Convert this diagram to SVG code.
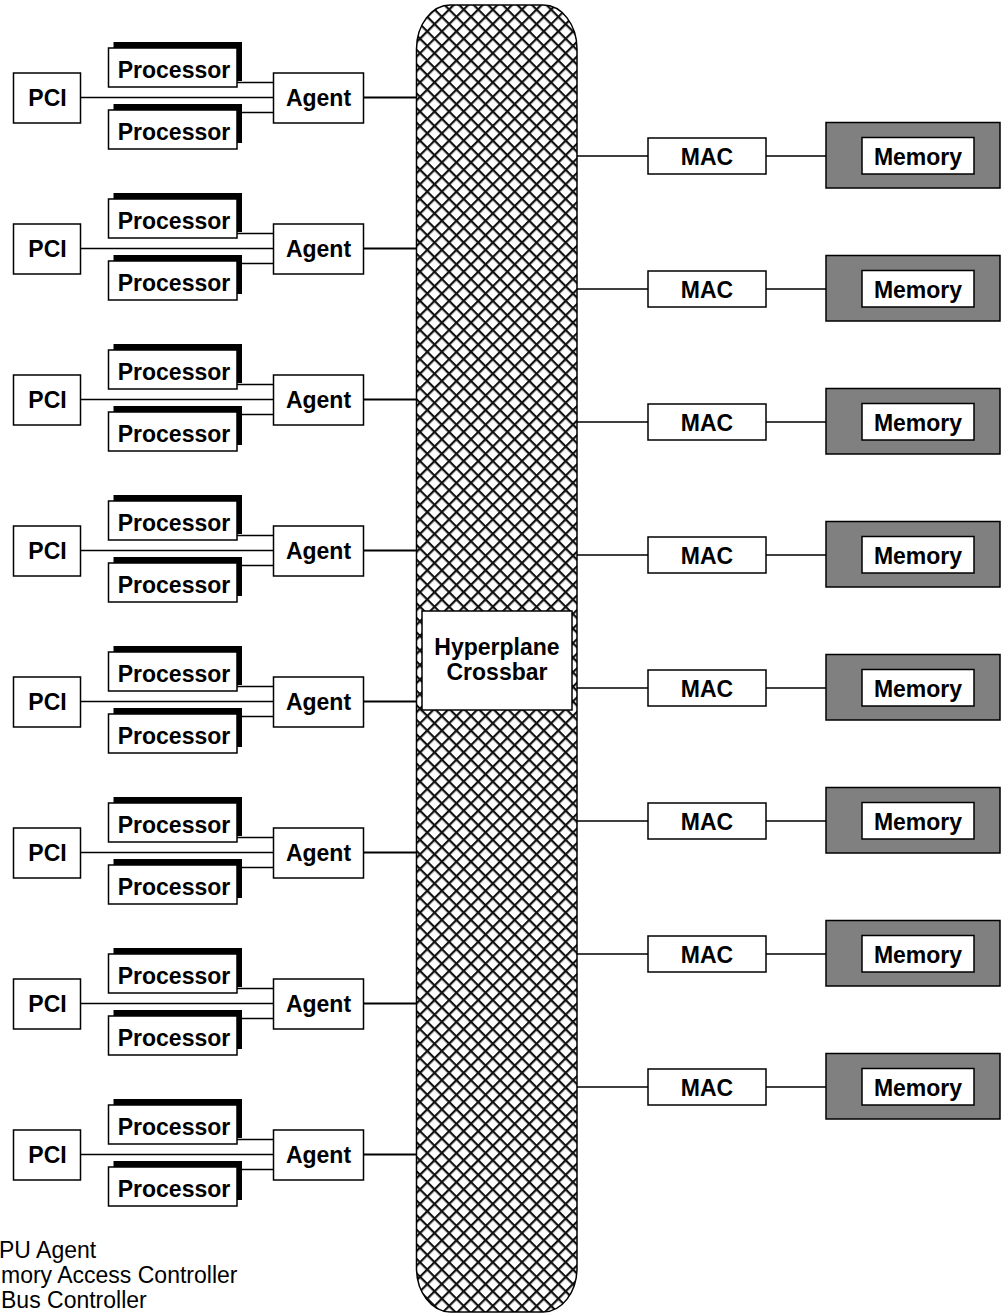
<svg xmlns="http://www.w3.org/2000/svg" width="1002" height="1315" viewBox="0 0 1002 1315">
<style>
.box{fill:#fff;stroke:#000;stroke-width:1.5}
.sh{fill:#000}
.mem{fill:#808080;stroke:#000;stroke-width:1.5}
.t{font-family:"Liberation Sans",Arial,sans-serif;font-weight:bold;font-size:23px;text-anchor:middle;fill:#000}
.lg{font-family:"Liberation Sans",Arial,sans-serif;font-size:23px;fill:#000}
.ln{stroke:#000;stroke-width:1.5;fill:none}
.lt{stroke:#000;stroke-width:2.2;fill:none}
</style>
<defs>
<pattern id="hatch" width="10.3" height="10.3" patternUnits="userSpaceOnUse" patternTransform="translate(420 8) rotate(45)">
<rect width="10.3" height="10.3" fill="#fff"/>
<rect width="10.3" height="2.2" fill="#111"/>
<rect width="2.2" height="10.3" fill="#111"/>
</pattern>
</defs>
<rect width="1002" height="1315" fill="#fff"/>

<g id="crossbar">
<rect x="416.5" y="5" width="160.5" height="1307" rx="34" ry="44" fill="url(#hatch)" stroke="#000" stroke-width="1.5"/>
<rect class="box" x="422" y="611" width="150" height="99"/>
<text class="t" x="497" y="655">Hyperplane</text>
<text class="t" x="497" y="680">Crossbar</text>
</g>

<g id="connectors">
<path class="ln" d="M237 82.5H273.5M80.5 97.5H273.5M242 112.5H273.5"/>
<path class="lt" d="M363.5 97.5H417"/>
<path class="ln" d="M237 233.5H273.5M80.5 248.5H273.5M242 263.5H273.5"/>
<path class="lt" d="M363.5 248.5H417"/>
<path class="ln" d="M237 384.5H273.5M80.5 399.5H273.5M242 414.5H273.5"/>
<path class="lt" d="M363.5 399.5H417"/>
<path class="ln" d="M237 535.5H273.5M80.5 550.5H273.5M242 565.5H273.5"/>
<path class="lt" d="M363.5 550.5H417"/>
<path class="ln" d="M237 686.5H273.5M80.5 701.5H273.5M242 716.5H273.5"/>
<path class="lt" d="M363.5 701.5H417"/>
<path class="ln" d="M237 837.5H273.5M80.5 852.5H273.5M242 867.5H273.5"/>
<path class="lt" d="M363.5 852.5H417"/>
<path class="ln" d="M237 988.5H273.5M80.5 1003.5H273.5M242 1018.5H273.5"/>
<path class="lt" d="M363.5 1003.5H417"/>
<path class="ln" d="M237 1139.5H273.5M80.5 1154.5H273.5M242 1169.5H273.5"/>
<path class="lt" d="M363.5 1154.5H417"/>
<path class="ln" d="M577 156H648M766 156H826"/>
<path class="ln" d="M577 289H648M766 289H826"/>
<path class="ln" d="M577 422H648M766 422H826"/>
<path class="ln" d="M577 555H648M766 555H826"/>
<path class="ln" d="M577 688H648M766 688H826"/>
<path class="ln" d="M577 821H648M766 821H826"/>
<path class="ln" d="M577 954H648M766 954H826"/>
<path class="ln" d="M577 1087H648M766 1087H826"/>
</g>

<g id="pci1"><rect class="box" x="13.5" y="73" width="67" height="50"/><text class="t" x="47.5" y="106">PCI</text></g>
<g id="proc1a"><rect class="sh" x="113.5" y="42" width="128.5" height="39"/><rect class="box" x="108.5" y="48" width="128.5" height="39"/><text class="t" x="174" y="77.5">Processor</text></g>
<g id="proc1b"><rect class="sh" x="113.5" y="104" width="128.5" height="39"/><rect class="box" x="108.5" y="110" width="128.5" height="39"/><text class="t" x="174" y="139.5">Processor</text></g>
<g id="agent1"><rect class="box" x="273.5" y="73" width="90" height="50"/><text class="t" x="318.5" y="106">Agent</text></g>

<g id="pci2"><rect class="box" x="13.5" y="224" width="67" height="50"/><text class="t" x="47.5" y="257">PCI</text></g>
<g id="proc2a"><rect class="sh" x="113.5" y="193" width="128.5" height="39"/><rect class="box" x="108.5" y="199" width="128.5" height="39"/><text class="t" x="174" y="228.5">Processor</text></g>
<g id="proc2b"><rect class="sh" x="113.5" y="255" width="128.5" height="39"/><rect class="box" x="108.5" y="261" width="128.5" height="39"/><text class="t" x="174" y="290.5">Processor</text></g>
<g id="agent2"><rect class="box" x="273.5" y="224" width="90" height="50"/><text class="t" x="318.5" y="257">Agent</text></g>

<g id="pci3"><rect class="box" x="13.5" y="375" width="67" height="50"/><text class="t" x="47.5" y="408">PCI</text></g>
<g id="proc3a"><rect class="sh" x="113.5" y="344" width="128.5" height="39"/><rect class="box" x="108.5" y="350" width="128.5" height="39"/><text class="t" x="174" y="379.5">Processor</text></g>
<g id="proc3b"><rect class="sh" x="113.5" y="406" width="128.5" height="39"/><rect class="box" x="108.5" y="412" width="128.5" height="39"/><text class="t" x="174" y="441.5">Processor</text></g>
<g id="agent3"><rect class="box" x="273.5" y="375" width="90" height="50"/><text class="t" x="318.5" y="408">Agent</text></g>

<g id="pci4"><rect class="box" x="13.5" y="526" width="67" height="50"/><text class="t" x="47.5" y="559">PCI</text></g>
<g id="proc4a"><rect class="sh" x="113.5" y="495" width="128.5" height="39"/><rect class="box" x="108.5" y="501" width="128.5" height="39"/><text class="t" x="174" y="530.5">Processor</text></g>
<g id="proc4b"><rect class="sh" x="113.5" y="557" width="128.5" height="39"/><rect class="box" x="108.5" y="563" width="128.5" height="39"/><text class="t" x="174" y="592.5">Processor</text></g>
<g id="agent4"><rect class="box" x="273.5" y="526" width="90" height="50"/><text class="t" x="318.5" y="559">Agent</text></g>

<g id="pci5"><rect class="box" x="13.5" y="677" width="67" height="50"/><text class="t" x="47.5" y="710">PCI</text></g>
<g id="proc5a"><rect class="sh" x="113.5" y="646" width="128.5" height="39"/><rect class="box" x="108.5" y="652" width="128.5" height="39"/><text class="t" x="174" y="681.5">Processor</text></g>
<g id="proc5b"><rect class="sh" x="113.5" y="708" width="128.5" height="39"/><rect class="box" x="108.5" y="714" width="128.5" height="39"/><text class="t" x="174" y="743.5">Processor</text></g>
<g id="agent5"><rect class="box" x="273.5" y="677" width="90" height="50"/><text class="t" x="318.5" y="710">Agent</text></g>

<g id="pci6"><rect class="box" x="13.5" y="828" width="67" height="50"/><text class="t" x="47.5" y="861">PCI</text></g>
<g id="proc6a"><rect class="sh" x="113.5" y="797" width="128.5" height="39"/><rect class="box" x="108.5" y="803" width="128.5" height="39"/><text class="t" x="174" y="832.5">Processor</text></g>
<g id="proc6b"><rect class="sh" x="113.5" y="859" width="128.5" height="39"/><rect class="box" x="108.5" y="865" width="128.5" height="39"/><text class="t" x="174" y="894.5">Processor</text></g>
<g id="agent6"><rect class="box" x="273.5" y="828" width="90" height="50"/><text class="t" x="318.5" y="861">Agent</text></g>

<g id="pci7"><rect class="box" x="13.5" y="979" width="67" height="50"/><text class="t" x="47.5" y="1012">PCI</text></g>
<g id="proc7a"><rect class="sh" x="113.5" y="948" width="128.5" height="39"/><rect class="box" x="108.5" y="954" width="128.5" height="39"/><text class="t" x="174" y="983.5">Processor</text></g>
<g id="proc7b"><rect class="sh" x="113.5" y="1010" width="128.5" height="39"/><rect class="box" x="108.5" y="1016" width="128.5" height="39"/><text class="t" x="174" y="1045.5">Processor</text></g>
<g id="agent7"><rect class="box" x="273.5" y="979" width="90" height="50"/><text class="t" x="318.5" y="1012">Agent</text></g>

<g id="pci8"><rect class="box" x="13.5" y="1130" width="67" height="50"/><text class="t" x="47.5" y="1163">PCI</text></g>
<g id="proc8a"><rect class="sh" x="113.5" y="1099" width="128.5" height="39"/><rect class="box" x="108.5" y="1105" width="128.5" height="39"/><text class="t" x="174" y="1134.5">Processor</text></g>
<g id="proc8b"><rect class="sh" x="113.5" y="1161" width="128.5" height="39"/><rect class="box" x="108.5" y="1167" width="128.5" height="39"/><text class="t" x="174" y="1196.5">Processor</text></g>
<g id="agent8"><rect class="box" x="273.5" y="1130" width="90" height="50"/><text class="t" x="318.5" y="1163">Agent</text></g>

<g id="mac1"><rect class="box" x="648" y="138" width="118" height="36"/><text class="t" x="707" y="164.5">MAC</text></g>
<g id="mem1"><rect class="mem" x="826" y="122.5" width="174" height="65.5"/><rect class="box" x="862" y="137.5" width="112" height="36.5"/><text class="t" x="918" y="164.5">Memory</text></g>
<g id="mac2"><rect class="box" x="648" y="271" width="118" height="36"/><text class="t" x="707" y="297.5">MAC</text></g>
<g id="mem2"><rect class="mem" x="826" y="255.5" width="174" height="65.5"/><rect class="box" x="862" y="270.5" width="112" height="36.5"/><text class="t" x="918" y="297.5">Memory</text></g>
<g id="mac3"><rect class="box" x="648" y="404" width="118" height="36"/><text class="t" x="707" y="430.5">MAC</text></g>
<g id="mem3"><rect class="mem" x="826" y="388.5" width="174" height="65.5"/><rect class="box" x="862" y="403.5" width="112" height="36.5"/><text class="t" x="918" y="430.5">Memory</text></g>
<g id="mac4"><rect class="box" x="648" y="537" width="118" height="36"/><text class="t" x="707" y="563.5">MAC</text></g>
<g id="mem4"><rect class="mem" x="826" y="521.5" width="174" height="65.5"/><rect class="box" x="862" y="536.5" width="112" height="36.5"/><text class="t" x="918" y="563.5">Memory</text></g>
<g id="mac5"><rect class="box" x="648" y="670" width="118" height="36"/><text class="t" x="707" y="696.5">MAC</text></g>
<g id="mem5"><rect class="mem" x="826" y="654.5" width="174" height="65.5"/><rect class="box" x="862" y="669.5" width="112" height="36.5"/><text class="t" x="918" y="696.5">Memory</text></g>
<g id="mac6"><rect class="box" x="648" y="803" width="118" height="36"/><text class="t" x="707" y="829.5">MAC</text></g>
<g id="mem6"><rect class="mem" x="826" y="787.5" width="174" height="65.5"/><rect class="box" x="862" y="802.5" width="112" height="36.5"/><text class="t" x="918" y="829.5">Memory</text></g>
<g id="mac7"><rect class="box" x="648" y="936" width="118" height="36"/><text class="t" x="707" y="962.5">MAC</text></g>
<g id="mem7"><rect class="mem" x="826" y="920.5" width="174" height="65.5"/><rect class="box" x="862" y="935.5" width="112" height="36.5"/><text class="t" x="918" y="962.5">Memory</text></g>
<g id="mac8"><rect class="box" x="648" y="1069" width="118" height="36"/><text class="t" x="707" y="1095.5">MAC</text></g>
<g id="mem8"><rect class="mem" x="826" y="1053.5" width="174" height="65.5"/><rect class="box" x="862" y="1068.5" width="112" height="36.5"/><text class="t" x="918" y="1095.5">Memory</text></g>

<g id="legend">
<text class="lg" x="-1" y="1258">PU Agent</text>
<text class="lg" x="1" y="1283">mory Access Controller</text>
<text class="lg" x="1" y="1308">Bus Controller</text>
</g>
</svg>
